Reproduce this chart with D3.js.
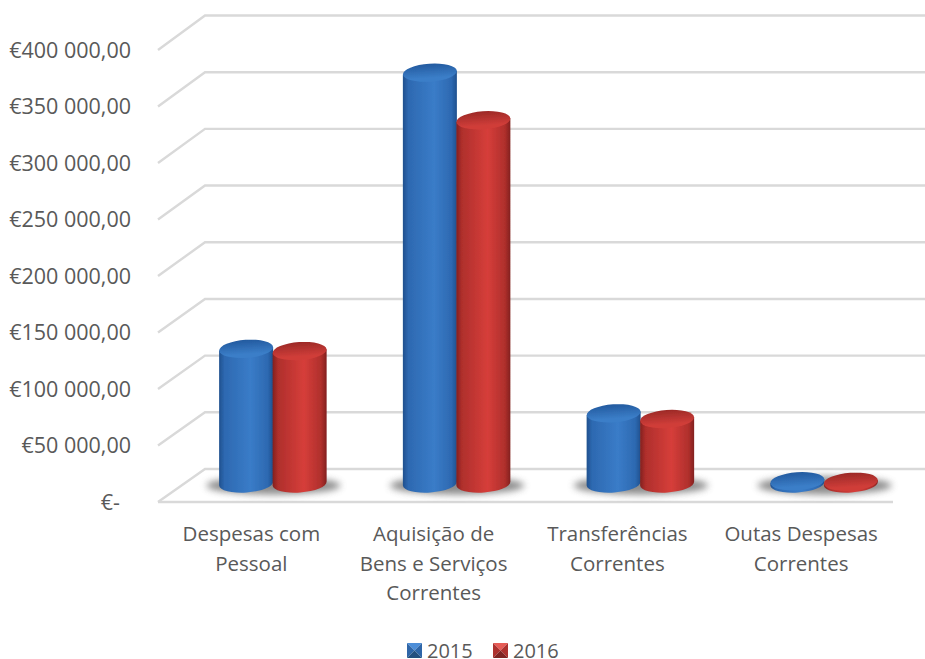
<!DOCTYPE html>
<html>
<head>
<meta charset="utf-8">
<style>
html, body { margin: 0; padding: 0; background: #fff; }
svg { display: block; }
text { font-family: "Open Sans", sans-serif; fill: #595959; }
</style>
<script src="https://cdn.jsdelivr.net/npm/d3@7"></script>
</head>
<body>
<div id="chart"></div>
<script>
const categories = [
    ["Despesas com", "Pessoal"],
    ["Aquisição de", "Bens e Serviços", "Correntes"],
    ["Transferências", "Correntes"],
    ["Outas Despesas", "Correntes"]
];
const years = ["2015", "2016"];
const values2015 = [119000, 363000, 62000, 2000];
const values2016 = [117000, 321000, 57000, 1500];
const yTicks = [0, 50000, 100000, 150000, 200000, 250000, 300000, 350000, 400000];
const yTickLabels = ["€-", "€50 000,00", "€100 000,00", "€150 000,00", "€200 000,00", "€250 000,00", "€300 000,00", "€350 000,00", "€400 000,00"];

const width = 925, height = 659;
const depthX = 47;
const plotLeft = 158, plotRight = 893;

const svg = d3.select("#chart").append("svg").attr("width", width).attr("height", height);
const defs = svg.append("defs");

function cylinderGradient(id, edge, mid, light) {
    const g = defs.append("linearGradient").attr("id", id);
    [[0, edge], [0.1, mid], [0.58, light], [0.9, mid], [1, edge]].forEach(s => {
        g.append("stop").attr("offset", s[0]).attr("stop-color", s[1]);
    });
}
function capGradient(id, top, bottom) {
    const g = defs.append("linearGradient").attr("id", id).attr("x1", 0).attr("x2", 0).attr("y1", 0).attr("y2", 1);
    g.append("stop").attr("offset", 0).attr("stop-color", top);
    g.append("stop").attr("offset", 0.8).attr("stop-color", bottom);
    g.append("stop").attr("offset", 1).attr("stop-color", bottom);
}
cylinderGradient("body2015", "#20508e", "#2d69b1", "#3a7cc8");
cylinderGradient("body2016", "#82211f", "#af2f2c", "#d63e3a");
capGradient("cap2015", "#235a9f", "#3b7ec8");
capGradient("cap2016", "#9c2a27", "#d03d39");
defs.append("filter").attr("id", "blur").attr("x", "-30%").attr("y", "-100%").attr("width", "160%").attr("height", "300%")
    .append("feGaussianBlur").attr("stdDeviation", 3.5);
defs.append("filter").attr("id", "soft").attr("x", "-5%").attr("y", "-5%").attr("width", "110%").attr("height", "110%")
    .append("feGaussianBlur").attr("stdDeviation", 0.5);

// front plane and back wall have slightly different pixel steps
const y = d3.scaleLinear().domain([0, 400000]).range([502, 50]);
const yBack = d3.scaleLinear().domain([0, 400000]).range([469, 15.5]);
const yBar = d3.scaleLinear().domain([0, 400000]).range([483.5, 30.8]);
const x0 = d3.scaleBand().domain(d3.range(categories.length)).range([plotLeft, plotRight]);
const x1 = d3.scaleBand().domain(years).range([x0.bandwidth() / 2 - 54, x0.bandwidth() / 2 + 53]);

// gridlines and wall
const grid = svg.append("g").attr("stroke", "#d9d9d9").attr("stroke-width", 2.4).attr("fill", "none");
yTicks.forEach(t => {
    grid.append("path")
        .attr("d", `M${plotLeft},${y(t)}L${plotLeft + depthX},${yBack(t)}L${width},${yBack(t)}`);
});
grid.append("line").attr("x1", plotLeft).attr("x2", plotRight).attr("y1", y(0)).attr("y2", y(0));

// y labels
svg.append("g").selectAll("text").data(yTicks).join("text")
    .attr("x", d => d == 0 ? 120 : 131).attr("y", d => y(d) + 2)
    .attr("text-anchor", "end").attr("dominant-baseline", "middle")
    .attr("font-size", 21.5)
    .text((d, i) => yTickLabels[i]);

// cylinders
const rx = 27, ry = 9, tilt = -4;
const series = [
    { year: "2015", values: values2015 },
    { year: "2016", values: values2016 }
];
const bars = svg.append("g");

// shadows go under all of the bars
categories.forEach((c, i) => {
    const cx = x0(i) + x0.bandwidth() / 2 + depthX / 2;
    bars.append("ellipse")
        .attr("cx", cx).attr("cy", yBar(0) + 2)
        .attr("rx", 67).attr("ry", 9)
        .attr("fill", "#6e6e6e").attr("opacity", 0.8)
        .attr("filter", "url(#blur)");
});
series.forEach(s => {
    s.values.forEach((v, i) => {
        const cx = x0(i) + x1(s.year) + x1.bandwidth() / 2 + depthX / 2;
        const yBase = yBar(0);
        const yTop = yBar(v);
        const dy = rx * Math.sin(tilt * Math.PI / 180);
        const g = bars.append("g").attr("filter", "url(#soft)");
        g.append("path")
            .attr("d", `M${cx - rx},${yTop - dy}L${cx - rx},${yBase - dy}A${rx},${ry} ${tilt} 0 0 ${cx + rx},${yBase + dy}L${cx + rx},${yTop + dy}Z`)
            .attr("fill", `url(#body${s.year})`);
        g.append("ellipse")
            .attr("cx", cx).attr("cy", yTop)
            .attr("rx", rx).attr("ry", ry)
            .attr("transform", `rotate(${tilt} ${cx} ${yTop})`)
            .attr("fill", `url(#cap${s.year})`);
    });
});

// category labels
const catG = svg.append("g");
categories.forEach((lines, i) => {
    lines.forEach((line, j) => {
        catG.append("text")
            .attr("x", x0(i) + x0.bandwidth() / 2 + (i == 0 ? 1.5 : 0))
            .attr("y", 541 + j * 29.5)
            .attr("text-anchor", "middle")
            .attr("font-size", 20.5)
            .text(line);
    });
});

// legend
const legendColors = { "2015": ["#4d8ed8", "#2f66a8", "#24507f"], "2016": ["#e65c56", "#ad312e", "#7f2422"] };
const legendX = { "2015": 407, "2016": 493 };
years.forEach(yr => {
    const lx = legendX[yr], ly = 643, sz = 15;
    const g = svg.append("g").attr("transform", `translate(${lx},${ly})`);
    const c = legendColors[yr];
    const cx = sz / 2, cy = sz / 2;
    g.append("polygon").attr("points", `0,0 ${sz},0 ${cx},${cy}`).attr("fill", c[0]);
    g.append("polygon").attr("points", `0,0 ${cx},${cy} 0,${sz}`).attr("fill", c[1]);
    g.append("polygon").attr("points", `${sz},0 ${cx},${cy} ${sz},${sz}`).attr("fill", c[1]);
    g.append("polygon").attr("points", `0,${sz} ${cx},${cy} ${sz},${sz}`).attr("fill", c[2]);
    svg.append("text").attr("x", lx + 20).attr("y", 658)
        .attr("font-size", 20).text(yr);
});
</script>
</body>
</html>
